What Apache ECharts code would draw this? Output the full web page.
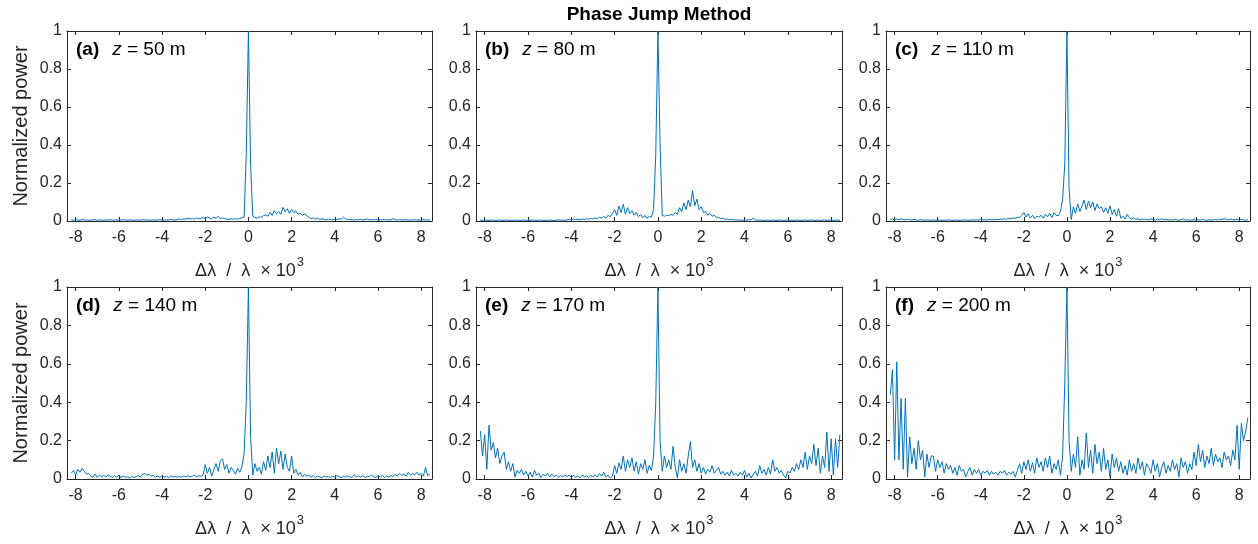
<!DOCTYPE html>
<html>
<head>
<meta charset="utf-8">
<script src="https://cdn.jsdelivr.net/npm/echarts@6/dist/echarts.min.js"></script>
<style>
html,body{margin:0;padding:0;background:#fff;}
#chart{width:1258px;height:544px;}
</style>
</head>
<body>
<div id="chart"></div>
<script>
// Wavelength offset grid (Δλ/λ × 10^3)
const X = [
-8.2,-8.1,-8,-7.9,-7.8,-7.7,-7.6,-7.5,-7.4,-7.3,
-7.2,-7.1,-7,-6.9,-6.8,-6.7,-6.6,-6.5,-6.4,-6.3,
-6.2,-6.1,-6,-5.9,-5.8,-5.7,-5.6,-5.5,-5.4,-5.3,
-5.2,-5.1,-5,-4.9,-4.8,-4.7,-4.6,-4.5,-4.4,-4.3,
-4.2,-4.1,-4,-3.9,-3.8,-3.7,-3.6,-3.5,-3.4,-3.3,
-3.2,-3.1,-3,-2.9,-2.8,-2.7,-2.6,-2.5,-2.4,-2.3,
-2.2,-2.1,-2,-1.9,-1.8,-1.7,-1.6,-1.5,-1.4,-1.3,
-1.2,-1.1,-1,-0.9,-0.8,-0.7,-0.6,-0.5,-0.4,-0.3,
-0.2,-0.1,0,0.1,0.2,0.3,0.4,0.5,0.6,0.7,
0.8,0.9,1,1.1,1.2,1.3,1.4,1.5,1.6,1.7,
1.8,1.9,2,2.1,2.2,2.3,2.4,2.5,2.6,2.7,
2.8,2.9,3,3.1,3.2,3.3,3.4,3.5,3.6,3.7,
3.8,3.9,4,4.1,4.2,4.3,4.4,4.5,4.6,4.7,
4.8,4.9,5,5.1,5.2,5.3,5.4,5.5,5.6,5.7,
5.8,5.9,6,6.1,6.2,6.3,6.4,6.5,6.6,6.7,
6.8,6.9,7,7.1,7.2,7.3,7.4,7.5,7.6,7.7,
7.8,7.9,8,8.1,8.2,8.3,8.4
];

const powerA = [
0.006,0.004,0.007,0.005,0.004,0.008,0.005,0.006,0.004,0.005,
0.005,0.007,0.004,0.006,0.005,0.004,0.006,0.005,0.007,0.004,
0.005,0.006,0.004,0.005,0.007,0.005,0.004,0.006,0.005,0.004,
0.006,0.005,0.004,0.007,0.005,0.006,0.004,0.005,0.006,0.004,
0.005,0.007,0.005,0.004,0.006,0.005,0.008,0.006,0.005,0.007,
0.010,0.008,0.012,0.010,0.014,0.011,0.013,0.010,0.015,0.012,
0.014,0.018,0.013,0.022,0.016,0.012,0.020,0.015,0.024,0.014,
0.016,0.012,0.010,0.008,0.011,0.009,0.012,0.010,0.014,0.016,
0.020,0.350,1.000,0.300,0.025,0.018,0.015,0.022,0.020,0.028,
0.032,0.025,0.045,0.030,0.055,0.038,0.050,0.035,0.072,0.048,
0.065,0.040,0.060,0.045,0.052,0.035,0.042,0.030,0.038,0.028,
0.020,0.012,0.016,0.010,0.014,0.008,0.012,0.009,0.006,0.010,
0.008,0.006,0.010,0.007,0.012,0.009,0.020,0.010,0.008,0.006,
0.007,0.005,0.008,0.006,0.009,0.005,0.007,0.010,0.006,0.008,
0.006,0.009,0.005,0.007,0.006,0.008,0.005,0.007,0.006,0.012,
0.007,0.005,0.008,0.006,0.005,0.007,0.004,0.006,0.005,0.007,
0.005,0.006,0.004,0.008,0.005,0.006,0.004
];

const powerB = [
0.004,0.003,0.005,0.004,0.003,0.005,0.004,0.003,0.004,0.005,
0.003,0.004,0.005,0.003,0.004,0.003,0.005,0.004,0.003,0.004,
0.005,0.003,0.004,0.003,0.005,0.004,0.003,0.004,0.005,0.003,
0.004,0.003,0.005,0.004,0.003,0.004,0.006,0.004,0.005,0.004,
0.006,0.008,0.006,0.010,0.007,0.009,0.006,0.010,0.008,0.012,
0.009,0.014,0.010,0.016,0.012,0.020,0.014,0.024,0.016,0.030,
0.022,0.040,0.060,0.030,0.078,0.045,0.088,0.035,0.070,0.040,
0.055,0.030,0.045,0.022,0.035,0.018,0.028,0.015,0.025,0.020,
0.060,0.350,1.000,0.400,0.030,0.025,0.030,0.028,0.035,0.030,
0.045,0.035,0.070,0.050,0.095,0.060,0.110,0.075,0.160,0.080,
0.115,0.060,0.075,0.045,0.050,0.030,0.040,0.025,0.030,0.020,
0.018,0.012,0.015,0.009,0.010,0.007,0.008,0.006,0.005,0.006,
0.005,0.004,0.006,0.005,0.007,0.006,0.015,0.006,0.004,0.005,
0.004,0.003,0.005,0.004,0.003,0.005,0.004,0.003,0.005,0.004,
0.003,0.004,0.005,0.003,0.004,0.003,0.005,0.004,0.003,0.004,
0.005,0.003,0.004,0.006,0.003,0.004,0.005,0.003,0.004,0.005,
0.003,0.004,0.005,0.003,0.004,0.005,0.003
];

const powerC = [
0.008,0.012,0.006,0.010,0.007,0.011,0.008,0.006,0.009,0.007,
0.005,0.008,0.006,0.004,0.007,0.005,0.004,0.006,0.005,0.004,
0.005,0.004,0.006,0.004,0.003,0.005,0.004,0.006,0.004,0.003,
0.004,0.005,0.003,0.004,0.006,0.004,0.005,0.004,0.006,0.005,
0.006,0.005,0.008,0.006,0.007,0.005,0.009,0.007,0.006,0.008,
0.007,0.010,0.008,0.012,0.009,0.014,0.011,0.016,0.013,0.020,
0.018,0.030,0.045,0.020,0.038,0.015,0.030,0.012,0.025,0.020,
0.030,0.015,0.035,0.022,0.040,0.018,0.045,0.030,0.028,0.050,
0.115,0.300,1.000,0.170,0.008,0.075,0.040,0.090,0.050,0.080,
0.110,0.060,0.105,0.070,0.100,0.055,0.090,0.065,0.075,0.045,
0.070,0.040,0.080,0.035,0.060,0.025,0.065,0.015,0.025,0.010,
0.035,0.018,0.010,0.015,0.008,0.012,0.006,0.010,0.007,0.009,
0.006,0.012,0.008,0.005,0.010,0.007,0.012,0.006,0.009,0.005,
0.007,0.005,0.008,0.006,0.004,0.007,0.010,0.005,0.006,0.004,
0.005,0.007,0.004,0.006,0.005,0.008,0.006,0.004,0.007,0.005,
0.006,0.008,0.005,0.009,0.007,0.014,0.008,0.006,0.010,0.007,
0.006,0.009,0.005,0.008,0.006,0.004,0.007
];

const powerD = [
0.030,0.045,0.020,0.050,0.035,0.055,0.040,0.025,0.030,0.015,
0.010,0.025,0.008,0.020,0.012,0.018,0.010,0.022,0.015,0.008,
0.018,0.010,0.020,0.006,0.015,0.009,0.012,0.005,0.014,0.008,
0.012,0.018,0.010,0.025,0.028,0.020,0.024,0.015,0.018,0.010,
0.015,0.008,0.018,0.010,0.014,0.007,0.016,0.011,0.013,0.009,
0.014,0.010,0.016,0.012,0.017,0.011,0.015,0.019,0.012,0.016,
0.014,0.020,0.075,0.030,0.060,0.015,0.050,0.080,0.040,0.095,
0.105,0.050,0.075,0.030,0.060,0.045,0.025,0.055,0.035,0.065,
0.130,0.400,1.000,0.220,0.020,0.080,0.040,0.060,0.025,0.090,
0.045,0.120,0.060,0.140,0.030,0.160,0.080,0.145,0.050,0.130,
0.060,0.040,0.120,0.030,0.050,0.020,0.035,0.010,0.025,0.015,
0.020,0.010,0.018,0.008,0.015,0.012,0.006,0.016,0.010,0.013,
0.008,0.015,0.010,0.018,0.012,0.007,0.014,0.009,0.016,0.011,
0.008,0.022,0.012,0.016,0.010,0.018,0.007,0.014,0.011,0.020,
0.012,0.008,0.016,0.010,0.020,0.007,0.015,0.010,0.018,0.012,
0.025,0.015,0.030,0.018,0.026,0.014,0.035,0.020,0.028,0.022,
0.035,0.020,0.030,0.015,0.060,0.018,0.025
];

const powerE = [
0.250,0.120,0.230,0.050,0.280,0.150,0.190,0.110,0.160,0.080,
0.120,0.140,0.050,0.090,0.040,0.080,0.010,0.045,0.030,0.050,
0.020,0.040,0.015,0.035,0.010,0.045,0.020,0.030,0.008,0.025,
0.015,0.030,0.010,0.025,0.012,0.020,0.008,0.018,0.010,0.022,
0.012,0.020,0.008,0.018,0.010,0.015,0.006,0.020,0.012,0.016,
0.008,0.018,0.012,0.022,0.010,0.028,0.015,0.035,0.010,0.020,
0.005,0.015,0.070,0.030,0.085,0.050,0.120,0.040,0.100,0.060,
0.110,0.040,0.090,0.025,0.080,0.050,0.100,0.030,0.070,0.045,
0.120,0.400,1.000,0.200,0.040,0.120,0.060,0.100,0.050,0.170,
0.060,0.005,0.100,0.040,0.080,0.030,0.120,0.195,0.060,0.100,
0.040,0.080,0.030,0.060,0.025,0.050,0.035,0.070,0.030,0.045,
0.060,0.025,0.040,0.020,0.035,0.015,0.045,0.020,0.030,0.015,
0.035,0.020,0.045,0.010,0.030,0.005,0.025,0.040,0.015,0.070,
0.030,0.050,0.020,0.060,0.025,0.100,0.040,0.060,0.030,0.045,
0.020,0.005,0.040,0.030,0.060,0.040,0.080,0.050,0.100,0.060,
0.140,0.050,0.120,0.080,0.180,0.070,0.160,0.030,0.120,0.060,
0.245,0.040,0.210,0.020,0.210,0.060,0.230
];

const powerF = [
0.440,0.570,0.100,0.610,0.100,0.420,0.050,0.420,0.010,0.220,
0.080,0.160,0.050,0.200,0.100,0.150,0.010,0.130,0.060,0.120,
0.120,0.040,0.100,0.060,0.090,0.030,0.080,0.050,0.070,0.030,
0.060,0.020,0.070,0.040,0.050,0.010,0.040,0.060,0.020,0.050,
0.030,0.050,0.020,0.040,0.030,0.045,0.020,0.040,0.025,0.035,
0.020,0.040,0.030,0.045,0.020,0.035,0.025,0.040,0.010,0.045,
0.080,0.030,0.090,0.050,0.100,0.040,0.085,0.030,0.110,0.060,
0.090,0.040,0.110,0.060,0.120,0.030,0.080,0.050,0.100,0.020,
0.120,0.500,1.000,0.200,0.040,0.130,0.060,0.220,0.020,0.100,
0.050,0.240,0.060,0.150,0.030,0.180,0.080,0.140,0.040,0.160,
0.050,0.100,0.010,0.130,0.060,0.110,0.040,0.090,0.030,0.070,
0.020,0.100,0.040,0.080,0.030,0.110,0.050,0.090,0.020,0.080,
0.060,0.030,0.100,0.040,0.080,0.010,0.060,0.090,0.030,0.070,
0.040,0.100,0.050,0.080,0.010,0.110,0.060,0.090,0.030,0.080,
0.050,0.140,0.070,0.180,0.090,0.150,0.060,0.120,0.080,0.160,
0.070,0.130,0.090,0.110,0.060,0.140,0.100,0.120,0.070,0.150,
0.100,0.280,0.050,0.290,0.200,0.250,0.320
];

const panelTags = ['(a)','(b)','(c)','(d)','(e)','(f)'];
const panelZ = ['50','80','110','140','170','200'];
const series = [powerA, powerB, powerC, powerD, powerE, powerF];
const xTicks = [-8,-6,-4,-2,0,2,4,6,8];
const mainTitle = 'Phase Jump Method';
const xNameMain = 'Δλ  /  λ  × 10';
const xNameSup = '3';
const yName = 'Normalized power';

const LINE = '#0072BD';
const AX = '#262626';
const FONT = '"Liberation Sans", Arial, Helvetica, sans-serif';

const grids = [
  {left: 67,  top: 31,  width: 365, height: 190},
  {left: 476, top: 31,  width: 366, height: 190},
  {left: 886, top: 31,  width: 364, height: 190},
  {left: 67,  top: 287, width: 365, height: 192},
  {left: 476, top: 287, width: 366, height: 192},
  {left: 886, top: 287, width: 364, height: 192}
];

const xAxes = [], yAxes = [], ser = [], titles = [];
titles.push({
  text: mainTitle, left: 659, top: 5, textAlign: 'center', padding: 0,
  textStyle: {fontFamily: FONT, fontSize: 19, fontWeight: 'bold', color: '#000'}
});
grids.forEach((g, k) => {
  const axLine = {show: true, onZero: false, lineStyle: {color: AX, width: 1}};
  xAxes.push({
    gridIndex: k, type: 'value', position: 'bottom', min: -8.4, max: 8.5,
    axisLine: axLine,
    axisTick: {show: true, inside: true, length: 4, customValues: xTicks, lineStyle: {color: AX}},
    axisLabel: {show: true, customValues: xTicks, margin: 9, fontFamily: FONT, fontSize: 16, color: AX},
    splitLine: {show: false},
    name: '{n|' + xNameMain + '}{s|' + xNameSup + '}',
    nameLocation: 'middle', nameGap: 35,
    nameTextStyle: {
      fontFamily: FONT, fontSize: 18, color: AX,
      rich: {
        n: {fontFamily: FONT, fontSize: 18, color: AX, lineHeight: 24, verticalAlign: 'bottom'},
        s: {fontFamily: FONT, fontSize: 13, color: AX, lineHeight: 24, verticalAlign: 'top', padding: [0, 0, 0, 1]}
      }
    }
  });
  xAxes.push({
    gridIndex: k, type: 'value', position: 'top', min: -8.4, max: 8.5,
    axisLine: axLine,
    axisTick: {show: true, inside: true, length: 4, customValues: xTicks, lineStyle: {color: AX}},
    axisLabel: {show: false}, splitLine: {show: false}
  });
  const yLeft = {
    gridIndex: k, type: 'value', position: 'left', min: 0, max: 1, interval: 0.2,
    axisLine: axLine,
    axisTick: {show: true, inside: true, length: 4, lineStyle: {color: AX}},
    axisLabel: {show: true, margin: 5, fontFamily: FONT, fontSize: 16, color: AX},
    splitLine: {show: false}
  };
  if (k % 3 === 0) {
    yLeft.name = yName;
    yLeft.nameLocation = 'middle';
    yLeft.nameGap = 36;
    yLeft.nameTextStyle = {fontFamily: FONT, fontSize: 20, color: AX};
  }
  yAxes.push(yLeft);
  yAxes.push({
    gridIndex: k, type: 'value', position: 'right', min: 0, max: 1, interval: 0.2,
    axisLine: axLine,
    axisTick: {show: true, inside: true, length: 4, lineStyle: {color: AX}},
    axisLabel: {show: false}, splitLine: {show: false}
  });
  ser.push({
    type: 'line', xAxisIndex: 2 * k, yAxisIndex: 2 * k,
    data: X.map((x, i) => [x, series[k][i]]),
    showSymbol: false, symbol: 'none', smooth: false,
    lineStyle: {color: LINE, width: 1}, itemStyle: {color: LINE},
    clip: true
  });
  titles.push({
    text: '{b|' + panelTags[k] + '}{i|z}{r| = ' + panelZ[k] + ' m}',
    left: g.left + 9, top: g.top + 9, padding: 0,
    textStyle: {
      fontFamily: FONT, fontSize: 19, fontWeight: 'normal', color: '#000',
      rich: {
        b: {fontFamily: FONT, fontSize: 19, fontWeight: 'bold', color: '#000', padding: [0, 13, 0, 0]},
        i: {fontFamily: FONT, fontSize: 19, fontStyle: 'italic', fontWeight: 'normal', color: '#000'},
        r: {fontFamily: FONT, fontSize: 19, fontWeight: 'normal', color: '#000'}
      }
    }
  });
});

const chart = echarts.init(document.getElementById('chart'), null, {renderer: 'canvas'});
chart.setOption({
  animation: false,
  backgroundColor: '#fff',
  title: titles,
  grid: grids,
  xAxis: xAxes,
  yAxis: yAxes,
  series: ser
});
</script>
</body>
</html>
